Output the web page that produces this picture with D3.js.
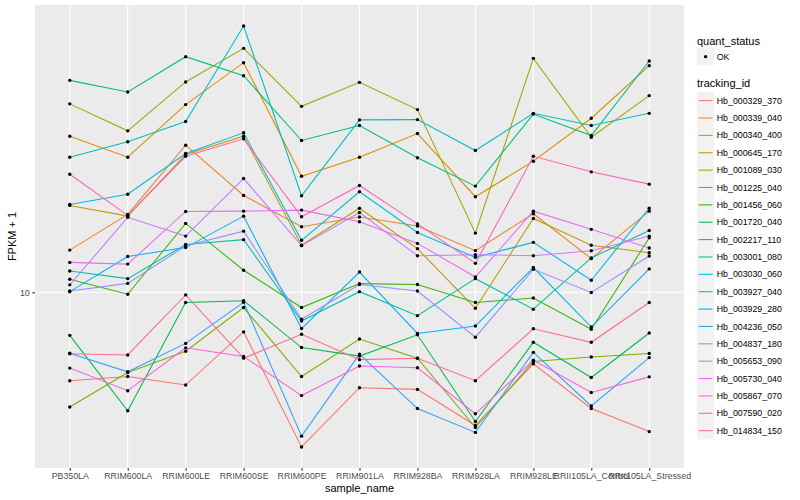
<!DOCTYPE html>
<html>
<head>
<meta charset="utf-8">
<script src="https://cdn.jsdelivr.net/npm/d3@7"></script>
<style>
  body { margin: 0; background: #fff; }
  text { font-family: "Liberation Sans", Arial, sans-serif; }
</style>
</head>
<body>
<div id="chart"></div>
<script>
// samples on the x axis
var samples = ["PB350LA", "RRIM600LA", "RRIM600LE", "RRIM600SE", "RRIM600PE", "RRIM901LA",
  "RRIM928BA", "RRIM928LA", "RRIM928LE", "RRII105LA_Control", "RRII105LA_Stressed"]

var trackingIds = ["Hb_000329_370", "Hb_000339_040", "Hb_000340_400", "Hb_000645_170", "Hb_001089_030",
  "Hb_001225_040", "Hb_001456_060", "Hb_001720_040", "Hb_002217_110", "Hb_003001_080",
  "Hb_003030_060", "Hb_003927_040", "Hb_003929_280", "Hb_004236_050", "Hb_004837_180",
  "Hb_005653_090", "Hb_005730_040", "Hb_005867_070", "Hb_007590_020", "Hb_014834_150"]

// ggplot default hue palette for 20 levels
var palette = ["#F8766D", "#EA8331", "#D89000", "#C09B00", "#A3A500", "#7CAE00", "#39B600", "#00BB4E",
  "#00BF7D", "#00C1A3", "#00BFC4", "#00BAE0", "#00B0F6", "#35A2FF", "#9590FF", "#C77CFF",
  "#E76BF3", "#FA62DB", "#FF62BC", "#FF6C91"]

var quantStatus = ["OK"]

// FPKM + 1, one value per sample
var hb_000329_370 = [6.65, 6.78, 6.52, 8.33, 4.90, 6.44, 6.39, 5.41, 7.19, 5.85, 5.26]
var hb_000339_040 = [12.15, 14.32, 19.71, 15.63, 13.53, 14.15, 13.58, 12.12, 14.37, 11.68, 14.54]
var hb_000340_400 = [20.54, 18.65, 23.77, 28.84, 17.08, 18.65, 20.80, 15.54, 18.31, 22.32, 28.45]
var hb_000645_170 = [14.93, 14.21, 18.88, 20.54, 12.42, 14.74, 12.23, 9.29, 14.06, 12.42, 12.00]
var hb_001089_030 = [23.85, 21.06, 26.39, 30.81, 23.58, 26.34, 23.23, 13.14, 29.42, 20.45, 24.78]
var hb_001225_040 = [5.89, 6.91, 7.62, 9.32, 6.78, 8.06, 7.38, 5.36, 7.27, 7.42, 7.54]
var hb_001456_060 = [10.62, 9.91, 13.74, 11.07, 9.32, 10.41, 10.37, 9.54, 9.74, 8.43, 12.86]
var hb_001720_040 = [8.20, 5.79, 9.54, 9.62, 7.75, 7.45, 8.22, 5.51, 7.94, 6.75, 8.29]
var hb_002217_110 = [26.58, 25.20, 29.65, 27.16, 20.14, 21.58, 18.60, 16.32, 22.75, 20.61, 29.07]
var hb_003001_080 = [11.03, 10.65, 12.47, 12.75, 8.76, 10.03, 8.98, 10.65, 9.25, 11.72, 13.30]
var hb_003030_060 = [18.65, 20.02, 21.98, 34.15, 15.61, 22.15, 22.18, 19.23, 22.83, 21.58, 22.83]
var hb_003927_040 = [15.00, 15.72, 18.97, 20.87, 12.71, 15.90, 13.18, 11.75, 12.59, 10.57, 14.74]
var hb_003929_280 = [10.03, 11.80, 12.29, 14.21, 8.46, 10.98, 8.27, 8.56, 11.21, 8.52, 11.14]
var hb_004236_050 = [7.55, 6.93, 7.90, 9.55, 5.15, 7.52, 5.85, 5.24, 7.58, 5.92, 7.40]
var hb_004837_180 = [10.06, 10.42, 12.39, 13.26, 8.83, 10.37, 10.06, 8.13, 11.12, 9.99, 11.82]
var hb_005653_090 = [10.35, 14.13, 12.96, 16.90, 12.40, 14.45, 11.84, 11.89, 11.84, 12.11, 12.96]
var hb_005730_040 = [11.48, 11.39, 14.52, 14.54, 14.61, 13.85, 12.53, 10.73, 14.54, 13.37, 12.27]
var hb_005867_070 = [7.05, 6.35, 7.74, 7.44, 6.21, 7.12, 7.06, 5.71, 7.31, 6.30, 6.77]
var hb_007590_020 = [17.24, 14.26, 18.73, 20.30, 14.17, 16.37, 13.71, 11.43, 18.73, 17.43, 16.47]
var hb_014834_150 = [7.53, 7.49, 9.88, 7.38, 8.24, 7.33, 7.38, 6.65, 8.45, 7.94, 9.54]

var seriesValues = [hb_000329_370, hb_000339_040, hb_000340_400, hb_000645_170, hb_001089_030,
  hb_001225_040, hb_001456_060, hb_001720_040, hb_002217_110, hb_003001_080,
  hb_003030_060, hb_003927_040, hb_003929_280, hb_004236_050, hb_004837_180,
  hb_005653_090, hb_005730_040, hb_005867_070, hb_007590_020, hb_014834_150]

var width = 800, height = 500
var panel = { left: 35, right: 684, top: 5, bottom: 468 }
var textColor = "#4D4D4D"

var color = d3.scaleOrdinal()
  .domain(trackingIds)
  .range(palette)

var series = trackingIds.map(function (id, i) {
  return { id: id, values: seriesValues[i] }
})

var svg = d3.select("#chart").append("svg")
  .attr("width", width)
  .attr("height", height)

var x = d3.scalePoint()
  .domain(samples)
  .range([panel.left, panel.right])
  .padding(0.6)

// log scale, expanded 5% on each side like ggplot
var ext = d3.extent(d3.merge(seriesValues)).map(Math.log10)
var pad = (ext[1] - ext[0]) * 0.05
var y = d3.scaleLog()
  .domain([Math.pow(10, ext[0] - pad), Math.pow(10, ext[1] + pad)])
  .range([panel.bottom, panel.top])

// panel background and grid
svg.append("rect")
  .attr("x", panel.left)
  .attr("y", panel.top)
  .attr("width", panel.right - panel.left)
  .attr("height", panel.bottom - panel.top)
  .attr("fill", "#EBEBEB")

var grid = svg.append("g")
grid.selectAll(".vgrid")
  .data(samples)
  .enter().append("line")
  .attr("x1", function (d) { return x(d) })
  .attr("x2", function (d) { return x(d) })
  .attr("y1", panel.top)
  .attr("y2", panel.bottom)
  .attr("stroke", "#fff")
  .attr("stroke-width", 1.07)

grid.selectAll(".hgrid")
  .data([10])
  .enter().append("line")
  .attr("x1", panel.left)
  .attr("x2", panel.right)
  .attr("y1", function (d) { return y(d) })
  .attr("y2", function (d) { return y(d) })
  .attr("stroke", "#fff")
  .attr("stroke-width", 1.07)

// lines
var line = d3.line()
  .x(function (d, i) { return x(samples[i]) })
  .y(function (d) { return y(d) })

svg.append("g").selectAll(".line")
  .data(series)
  .enter().append("path")
  .attr("class", "line")
  .attr("d", function (d) { return line(d.values) })
  .attr("fill", "none")
  .attr("stroke", function (d) { return color(d.id) })
  .attr("stroke-width", 1.07)

// points
var points = []
series.forEach(function (s) {
  s.values.forEach(function (v, i) {
    points.push({ sample: samples[i], value: v })
  })
})

svg.append("g").selectAll(".dot")
  .data(points)
  .enter().append("circle")
  .attr("cx", function (d) { return x(d.sample) })
  .attr("cy", function (d) { return y(d.value) })
  .attr("r", 1.7)
  .attr("fill", "#000")

// axes
var xAxis = svg.append("g")
  .attr("transform", "translate(0," + panel.bottom + ")")
  .call(d3.axisBottom(x).tickSize(2.75).tickPadding(2.5))
xAxis.select(".domain").remove()
xAxis.selectAll(".tick line").attr("stroke", "#333").attr("stroke-width", 1.07)
xAxis.selectAll(".tick text")
  .attr("fill", textColor)
  .style("font-size", "8.8px")
  .style("font-family", "'Liberation Sans', Arial, sans-serif")

var yAxis = svg.append("g")
  .attr("transform", "translate(" + panel.left + ",0)")
  .call(d3.axisLeft(y).tickValues([10]).tickFormat(d3.format("d")).tickSize(2.75).tickPadding(2.5))
yAxis.select(".domain").remove()
yAxis.selectAll(".tick line").attr("stroke", "#333").attr("stroke-width", 1.07)
yAxis.selectAll(".tick text")
  .attr("fill", textColor)
  .style("font-size", "8.8px")
  .style("font-family", "'Liberation Sans', Arial, sans-serif")

svg.append("text")
  .attr("x", (panel.left + panel.right) / 2)
  .attr("y", 492)
  .attr("text-anchor", "middle")
  .style("font-size", "11px")
  .text("sample_name")

svg.append("text")
  .attr("transform", "translate(16," + (panel.top + panel.bottom) / 2 + ") rotate(-90)")
  .attr("text-anchor", "middle")
  .style("font-size", "11px")
  .text("FPKM + 1")

// legends
var legendX = 697, keySize = 17.28

var legend1 = svg.append("g")
legend1.append("text")
  .attr("x", legendX)
  .attr("y", 44.5)
  .style("font-size", "11px")
  .text("quant_status")

var qKey = legend1.selectAll(".qkey")
  .data(quantStatus)
  .enter().append("g")
  .attr("transform", function (d, i) { return "translate(" + legendX + "," + (48 + i * keySize) + ")" })
qKey.append("rect")
  .attr("width", keySize)
  .attr("height", keySize)
  .attr("fill", "#F2F2F2")
qKey.append("circle")
  .attr("cx", keySize / 2)
  .attr("cy", keySize / 2)
  .attr("r", 1.7)
  .attr("fill", "#000")
qKey.append("text")
  .attr("x", keySize + 2.5)
  .attr("y", keySize / 2 + 3.1)
  .style("font-size", "8.8px")
  .text(function (d) { return d })

var legend2 = svg.append("g")
legend2.append("text")
  .attr("x", legendX)
  .attr("y", 87)
  .style("font-size", "11px")
  .text("tracking_id")

var tKey = legend2.selectAll(".tkey")
  .data(trackingIds)
  .enter().append("g")
  .attr("transform", function (d, i) { return "translate(" + legendX + "," + (92 + i * 17.37) + ")" })
tKey.append("rect")
  .attr("width", keySize)
  .attr("height", keySize)
  .attr("fill", "#F2F2F2")
tKey.append("line")
  .attr("x1", 1.7)
  .attr("x2", keySize - 1.7)
  .attr("y1", keySize / 2)
  .attr("y2", keySize / 2)
  .attr("stroke", function (d) { return color(d) })
  .attr("stroke-width", 1.07)
tKey.append("text")
  .attr("x", keySize + 2.5)
  .attr("y", keySize / 2 + 3.1)
  .style("font-size", "8.8px")
  .text(function (d) { return d })
</script>
</body>
</html>
